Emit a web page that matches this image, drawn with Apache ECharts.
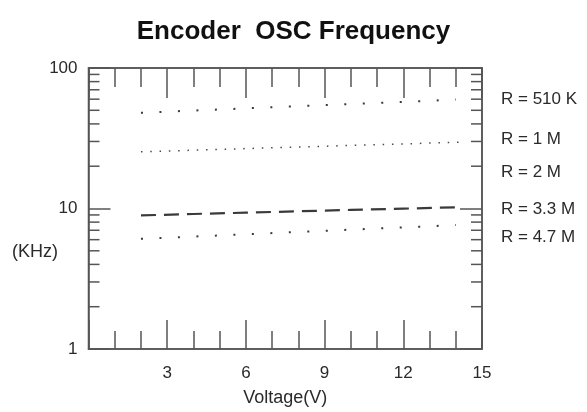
<!DOCTYPE html>
<html>
<head>
<meta charset="utf-8">
<script src="https://cdn.jsdelivr.net/npm/echarts@6/dist/echarts.min.js"></script>
<style>html,body{margin:0;padding:0;background:#fff}#c{width:587px;height:412px}</style>
</head>
<body>
<div id="c"></div>
<script>
// ---- data ----
var titleText = 'Encoder  OSC Frequency';
var xName = 'Voltage(V)';
var yName = '(KHz)';
var xTickLabels = [3, 6, 9, 12, 15];
var yTickLabels = [1, 10, 100];
var yMinorTicks = [2, 3, 4, 5, 6, 7, 8, 9, 20, 30, 40, 50, 60, 70, 80, 90];
var resistorLabels = ['R = 510 K', 'R = 1 M', 'R = 2 M', 'R = 3.3 M', 'R = 4.7 M'];

var volt510K = [2, 4, 6, 8, 10, 12, 14];
var freq510K = [48.0, 49.8, 51.6, 53.5, 55.4, 57.4, 59.6];
var volt1M = [2, 4, 6, 8, 10, 12, 14.4];
var freq1M = [25.3, 26.0, 26.7, 27.4, 28.1, 28.8, 29.8];
var volt2M = [2, 4, 6, 8, 10, 12, 14];
var freq2M = [8.93, 9.14, 9.34, 9.55, 9.77, 9.98, 10.2];
var volt47M = [2, 4, 6, 8, 10, 12, 14];
var freq47M = [6.08, 6.31, 6.56, 6.81, 7.07, 7.34, 7.62];

function pairs(xs, ys) { return xs.map(function (x, i) { return [x, ys[i]]; }); }

var FONT = '"Liberation Sans", Arial, Helvetica, sans-serif';
var AX = '#555';
var TXT = '#2a2a2a';
var LINE = '#3a3a3a';

var chart = echarts.init(document.getElementById('c'), null, { renderer: 'canvas' });

function xAx(pos, interval, len, labels, showLine) {
  return {
    type: 'value', position: pos, min: 0, max: 15, interval: interval,
    axisLine: { show: !!showLine, onZero: false, lineStyle: { color: AX, width: 1.5 } },
    axisTick: { show: true, inside: true, length: len, lineStyle: { color: AX, width: 1.5 } },
    splitLine: { show: false },
    axisLabel: labels ? {
      show: true, margin: 16, fontSize: 17, color: TXT, fontFamily: FONT,
      formatter: function (v) { return xTickLabels.indexOf(v) >= 0 ? String(v) : ''; }
    } : { show: false },
    name: labels ? xName : '', nameLocation: 'middle', nameGap: 40,
    nameTextStyle: { fontSize: 18, color: TXT, fontFamily: FONT }
  };
}
function yAx(pos, labels) {
  return {
    type: 'log', logBase: 10, min: 1, max: 100, position: pos,
    axisLine: { show: true, onZero: false, lineStyle: { color: AX, width: 1.5 } },
    axisTick: { show: true, inside: true, length: 22, lineStyle: { color: AX, width: 1.5 } },
    minorTick: { show: false },
    splitLine: { show: false },
    axisLabel: labels ? {
      show: true, margin: 11, fontSize: 17, color: TXT, fontFamily: FONT,
      formatter: function (v) { return yTickLabels.indexOf(Math.round(v)) >= 0 ? String(Math.round(v)) : ''; }
    } : { show: false }
  };
}

function lineSeries(data, width, dash, color) {
  return {
    type: 'line', data: data, xAxisIndex: 0, yAxisIndex: 0,
    showSymbol: false, symbol: 'none', smooth: false, silent: true,
    lineStyle: { color: color, width: width, type: dash, cap: 'butt' },
    z: 3
  };
}

var graphics = [
  { type: 'text', left: 12, top: 243,
    style: { text: yName, fontSize: 18, fill: TXT, fontFamily: FONT } }
];
var labelTops = [91, 131, 164, 201, 229];
resistorLabels.forEach(function (t, i) {
  graphics.push({ type: 'text', left: 501, top: labelTops[i],
    style: { text: t, fontSize: 17, fill: TXT, fontFamily: FONT } });
});

chart.setOption({
  animation: false,
  backgroundColor: '#fff',
  title: {
    text: titleText, left: 'center', top: 14,
    textStyle: { fontSize: 26, fontWeight: 'bold', color: '#111', fontFamily: FONT }
  },
  grid: { left: 88.5, right: 105, top: 68, bottom: 60, show: true, borderColor: AX, borderWidth: 1.5 },
  xAxis: [
    xAx('bottom', 1, 18, true, true),
    xAx('bottom', 3, 29, false, false),
    xAx('top', 1, 19, false, true),
    xAx('top', 3, 30, false, false)
  ],
  yAxis: [yAx('left', true), yAx('right', false)],
  graphic: graphics,
  series: [
    lineSeries(pairs(volt510K, freq510K), 2, [2, 16.5], LINE),
    lineSeries(pairs(volt1M, freq1M), 1.5, [1.5, 7.8], '#4a4a4a'),
    lineSeries(pairs(volt2M, freq2M), 2.2, [15, 8], LINE),
    lineSeries(pairs(volt47M, freq47M), 2, [2, 16.5], LINE),
    {
      type: 'custom', xAxisIndex: 0, yAxisIndex: 0, silent: true, clip: false,
      data: yMinorTicks.map(function (v) { return [0, v]; }),
      renderItem: function (params, api) {
        var v = api.value(1);
        var l = api.coord([0, v]);
        var r = api.coord([15, v]);
        var st = { stroke: AX, lineWidth: 1.5 };
        return {
          type: 'group', children: [
            { type: 'line', shape: { x1: l[0], y1: l[1], x2: l[0] + 11, y2: l[1] }, style: st },
            { type: 'line', shape: { x1: r[0] - 11, y1: r[1], x2: r[0], y2: r[1] }, style: st }
          ]
        };
      },
      z: 4
    }
  ]
});
</script>
</body>
</html>
